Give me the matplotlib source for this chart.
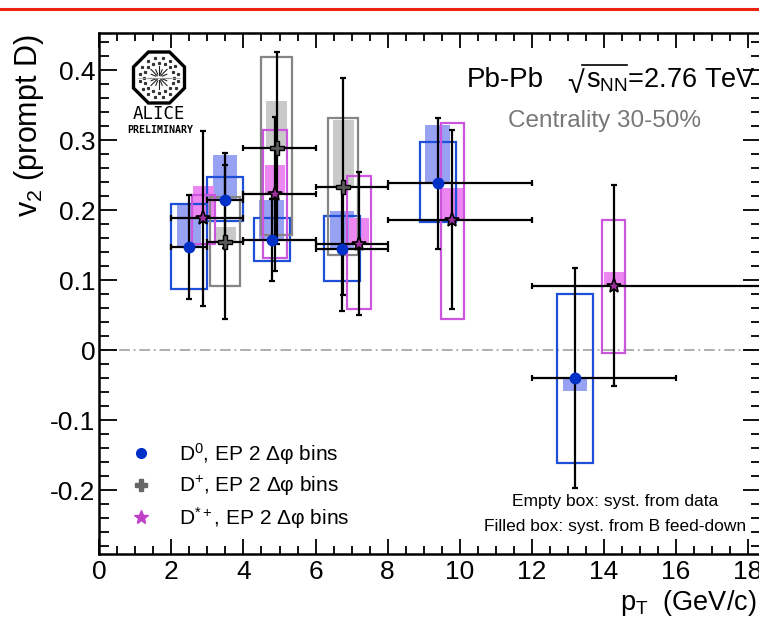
import numpy as np
import matplotlib
matplotlib.use("Agg")
import matplotlib.pyplot as plt
from matplotlib.lines import Line2D
from matplotlib.patches import RegularPolygon
from matplotlib.ticker import MultipleLocator, FuncFormatter

plt.rcParams["font.family"] = ["Liberation Sans", "DejaVu Sans"]
plt.rcParams["mathtext.fontset"] = "custom"
plt.rcParams["mathtext.rm"] = "Liberation Sans"
plt.rcParams["mathtext.it"] = "Liberation Sans:italic"
plt.rcParams["mathtext.bf"] = "Liberation Sans:bold"
plt.rcParams["mathtext.sf"] = "Liberation Sans"
plt.rcParams["axes.unicode_minus"] = False

# ---------------- data ----------------
# D0, event plane method with 2 delta-phi bins
d0_pt = [2.49, 3.49, 4.78, 6.73, 9.39, 13.20]
d0_lo = [2, 3, 4, 6, 8, 12]
d0_hi = [3, 4, 6, 8, 12, 16]
d0_v2 = [0.147, 0.214, 0.157, 0.145, 0.238, -0.040]
d0_stat = [0.074, 0.068, 0.059, 0.089, 0.094, 0.157]
d0_sys_mid = [0.148, 0.216, 0.158, 0.145, 0.240, -0.041]
d0_sys = [0.061, 0.031, 0.031, 0.047, 0.057, 0.121]
d0_fd = [0.060, 0.064, 0.057, 0.053, 0.084, -0.019]

# D+
dp_pt = [3.49, 4.92, 6.77]
dp_lo = [3, 4, 6]
dp_hi = [4, 6, 8]
dp_v2 = [0.155, 0.289, 0.233]
dp_stat = [0.110, 0.137, 0.155]
dp_sys_mid = [0.155, 0.291, 0.234]
dp_sys = [0.064, 0.127, 0.098]
dp_fd = [0.021, 0.067, 0.095]

# D*+
ds_pt = [2.89, 4.88, 7.21, 9.80, 14.27]
ds_lo = [2, 4, 6, 8, 12]
ds_hi = [4, 6, 8, 12, 24]
ds_v2 = [0.188, 0.223, 0.152, 0.186, 0.092]
ds_stat = [0.125, 0.110, 0.102, 0.128, 0.144]
ds_sys_mid = [0.187, 0.223, 0.153, 0.185, 0.091]
ds_sys = [0.035, 0.092, 0.095, 0.140, 0.095]
ds_fd = [0.046, 0.041, 0.036, 0.045, 0.020]

x_ticks = [0, 2, 4, 6, 8, 10, 12, 14, 16, 18]
y_ticks = [-0.2, -0.1, 0, 0.1, 0.2, 0.3, 0.4]

# ---------------- figure ----------------
W, H = 759, 623
fig = plt.figure(figsize=(W / 100, H / 100), dpi=100)


def fx(px):
    return px / W


def fy(py):
    return 1 - py / H


# red rule along the top of the page
fig.add_artist(Line2D([0, 1], [fy(9), fy(9)], color="#ee2211", lw=2.2,
                      transform=fig.transFigure))

ax_l, ax_r, ax_t, ax_b = 99.3, 761, 33, 554
ax = fig.add_axes([fx(ax_l), fy(ax_b), fx(ax_r - ax_l), (ax_b - ax_t) / H])
ax.set_xlim(0, 18.36)
ax.set_ylim(-0.2914, 0.4529)

# zero line
ax.axhline(0, color="#999999", lw=1.1, dashes=(7, 2.5, 1.2, 2.5), zorder=1)


def draw_species(pt, v2, smid, sys, fd, w_sys, w_fd, edge, fill, z):
    pt = np.asarray(pt)
    v2 = np.asarray(v2)
    # feed-down systematics (filled boxes)
    ax.bar(pt, fd, width=2 * w_fd, bottom=v2, color=fill, lw=0, zorder=z)
    # data-driven systematics (empty boxes)
    ax.bar(pt, 2 * np.asarray(sys), width=2 * w_sys,
           bottom=np.asarray(smid) - np.asarray(sys), fill=False,
           edgecolor=edge, lw=1.6, zorder=z + 0.5)


draw_species(d0_pt, d0_v2, d0_sys_mid, d0_sys, d0_fd,
             0.5, 0.34, "#1f4fd8", "#98a2f2", 2)
draw_species(dp_pt, dp_v2, dp_sys_mid, dp_sys, dp_fd,
             0.42, 0.29, "#858585", "#c9c9c9", 2.1)
draw_species(ds_pt, ds_v2, ds_sys_mid, ds_sys, ds_fd,
             0.33, 0.28, "#cc55dd", "#ec86f0", 2.2)


def draw_stat(pt, lo, hi, v2, stat, z):
    pt = np.asarray(pt)
    xerr = [pt - np.asarray(lo), np.asarray(hi) - pt]
    ax.errorbar(pt, v2, yerr=stat, xerr=xerr, fmt="none", ecolor="black",
                elinewidth=1.6, capsize=2.3, capthick=1.6, zorder=z)


draw_stat(d0_pt, d0_lo, d0_hi, d0_v2, d0_stat, 5)
draw_stat(dp_pt, dp_lo, dp_hi, dp_v2, dp_stat, 5)
draw_stat(ds_pt, ds_lo, ds_hi, ds_v2, ds_stat, 5)

ax.plot(d0_pt, d0_v2, "o", ms=7.5, mfc="#0030c8", mec="#0030c8", zorder=6)
ax.plot(dp_pt, dp_v2, "P", ms=10, mfc="#5a5a5a", mec="black", mew=1.0,
        zorder=6)
ax.plot(ds_pt, ds_v2, "*", ms=11, mfc="#a0309f", mec="black", mew=1.2,
        zorder=7)

# axes styling
for s in ax.spines.values():
    s.set_linewidth(1.8)
ax.xaxis.set_major_locator(MultipleLocator(2))
ax.xaxis.set_minor_locator(MultipleLocator(0.5))
ax.yaxis.set_major_locator(MultipleLocator(0.1))
ax.yaxis.set_minor_locator(MultipleLocator(0.02))
ax.tick_params(axis="both", which="both", direction="in", top=True,
               right=True, width=1.3)
ax.tick_params(axis="x", which="major", length=11, labelsize=19, pad=4)
ax.tick_params(axis="x", which="minor", length=5.8)
ax.tick_params(axis="y", which="major", length=13, labelsize=19, pad=3)
ax.tick_params(axis="y", which="minor", length=7)
ax.set_xticks(x_ticks)
ax.set_yticks(y_ticks)
ax.yaxis.set_major_formatter(FuncFormatter(
    lambda v, p: "0" if abs(v) < 1e-9 else f"{v:.1f}"))
ax.xaxis.set_major_formatter(FuncFormatter(lambda v, p: f"{v:g}"))

# axis titles
fig.text(fx(29), fy(126), r"v$_{2}$ (prompt D)", rotation=90, ha="center",
         va="center", fontsize=22)
fig.text(fx(620), fy(610), r"p$_{\mathrm{T}}$  (GeV/c)", ha="left",
         va="baseline", fontsize=19.5)

# collision system labels
fig.text(fx(467), fy(87), "Pb-Pb", ha="left", va="baseline", fontsize=20)
fig.text(fx(567), fy(93), "√", ha="left", va="baseline", fontsize=22)
fig.add_artist(Line2D([fx(582), fx(627)], [fy(65), fy(65)], color="black",
                      lw=1.2, transform=fig.transFigure))
fig.text(fx(586), fy(87), r"s$_{\mathrm{NN}}$=2.76 TeV", ha="left",
         va="baseline", fontsize=19.5)
fig.text(fx(508), fy(127), "Centrality 30-50%", ha="left", va="baseline",
         fontsize=17.5, color="#777777")

# systematics notes
fig.text(fx(615), fy(506), "Empty box: syst. from data", ha="center",
         va="baseline", fontsize=12.5)
fig.text(fx(615), fy(531), "Filled box: syst. from B feed-down", ha="center",
         va="baseline", fontsize=12.5)

# legend
handles = [
    Line2D([], [], ls="none", marker="o", ms=7, mfc="#0030c8", mec="#0030c8"),
    Line2D([], [], ls="none", marker="P", ms=9, mfc="#666666", mec="#666666"),
    Line2D([], [], ls="none", marker="*", ms=10, mfc="#c040c8", mec="#c040c8"),
]
labels = [r"D$^{0}$, EP 2 Δφ bins", r"D$^{+}$, EP 2 Δφ bins",
          r"D$^{*+}$, EP 2 Δφ bins"]
ax_w = ax_r - ax_l
ax.legend(handles, labels, loc="upper left",
          bbox_to_anchor=((128 - ax_l) / ax_w, (ax_b - 441) / (ax_b - ax_t)),
          frameon=False, fontsize=15, handlelength=1.2, handletextpad=1.25,
          labelspacing=0.33, borderaxespad=0, borderpad=0)

# experiment logo
lax = fig.add_axes([fx(129), fy(107.5), fx(60), 60 / H])
lax.set_xlim(-1, 1)
lax.set_ylim(-1, 1)
lax.set_aspect("equal")
lax.axis("off")
lax.add_patch(RegularPolygon((0, 0), 8, radius=0.92, orientation=np.pi / 8,
                             fill=False, ec="black", lw=2.4))
ang = np.deg2rad(np.arange(0, 360, 22.5))
for i, a in enumerate(ang):
    r0, r1 = (0.08, 0.38) if i % 2 == 0 else (0.12, 0.28)
    lax.plot([r0 * np.cos(a), r1 * np.cos(a)], [r0 * np.sin(a), r1 * np.sin(a)],
             color="#222222", lw=0.8)
    for r in (0.5, 0.66):
        aa = a + (0.2 if r > 0.6 else 0.0)
        lax.plot(r * np.cos(aa), r * np.sin(aa), "s", ms=1.3, color="#333333")
lax.plot([-0.7, 0.7], [0, 0], color="#aaaaaa", lw=0.6)
fig.text(fx(159), fy(114), "ALICE", ha="center", va="center",
         fontsize=12.5, family="DejaVu Sans Mono")
fig.text(fx(160), fy(130), "PRELIMINARY", ha="center", va="center",
         fontsize=7.2, family="DejaVu Sans Mono", weight="bold")

fig.savefig("out.png", dpi=100)
